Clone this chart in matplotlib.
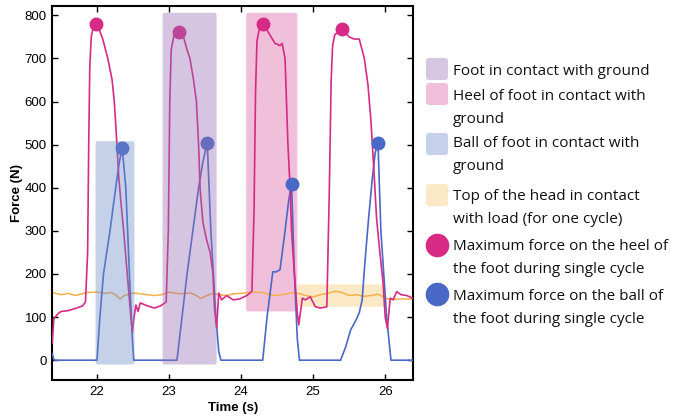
import matplotlib
matplotlib.use("Agg")
import matplotlib.pyplot as plt
from matplotlib.patches import FancyBboxPatch
from matplotlib.lines import Line2D

# ----------------------------------------------------
# data
# ----------------------------------------------------
heel_t = [21.38, 21.40, 21.42, 21.46, 21.50, 21.60, 21.70, 21.80, 21.84, 21.87, 21.885, 21.90,
          21.92, 21.95, 21.98, 22.02, 22.08, 22.15, 22.21, 22.24, 22.27, 22.30, 22.33, 22.37,
          22.42, 22.46, 22.49, 22.51, 22.54, 22.57, 22.60, 22.70, 22.80, 22.88, 22.96, 22.99,
          23.01, 23.03, 23.07, 23.14, 23.20, 23.25, 23.29, 23.34, 23.38, 23.41, 23.43, 23.47,
          23.52, 23.57, 23.61, 23.63, 23.66, 23.69, 23.73, 23.80, 23.89, 23.98, 24.08, 24.15,
          24.18, 24.20, 24.22, 24.26, 24.31, 24.38, 24.47, 24.54, 24.57, 24.61, 24.65, 24.68,
          24.70, 24.74, 24.78, 24.80, 24.85, 24.89, 24.96, 25.03, 25.10, 25.19, 25.225, 25.25,
          25.27, 25.30, 25.40, 25.50, 25.57, 25.64, 25.71, 25.76, 25.80, 25.84, 25.88, 25.92,
          25.97, 26.00, 26.03, 26.07, 26.11, 26.16, 26.22, 26.30, 26.38]
heel_f = [40, 95, 100, 108, 113, 115, 120, 126, 135, 250, 500, 680,
          750, 775, 780, 772, 745, 700, 650, 600, 520, 430, 370, 300,
          200, 120, 65, 95, 128, 113, 133, 126, 121, 126, 135, 300,
          600, 720, 755, 762, 750, 720, 700, 650, 600, 500, 400, 320,
          280, 250, 200, 120, 75, 156, 140, 150, 140, 142, 150, 160,
          350, 620, 740, 775, 780, 760, 735, 730, 735, 700, 500, 400,
          300, 200, 110, 82, 144, 140, 147, 124, 121, 124, 400, 650,
          730, 755, 768, 750, 745, 745, 700, 640, 560, 450, 330, 260,
          180, 100, 74, 144, 140, 159, 152, 150, 144]

ball_t = [21.38, 21.40, 21.42, 22.00, 22.04, 22.09, 22.18, 22.26, 22.31, 22.35, 22.40, 22.45,
          22.49, 22.51, 23.11, 23.18, 23.25, 23.33, 23.41, 23.47, 23.53, 23.58, 23.65, 23.69,
          23.72, 24.30, 24.36, 24.44, 24.49, 24.54, 24.61, 24.66, 24.70, 24.74, 24.78, 24.81,
          25.38, 25.45, 25.52, 25.60, 25.64, 25.68, 25.72, 25.77, 25.82, 25.86, 25.90, 25.94,
          26.02, 26.08, 26.38]
ball_f = [15, 2, 0, 0, 100, 200, 300, 400, 460, 492, 400, 200,
          50, 0, 0, 100, 200, 300, 400, 460, 505, 300, 100, 20,
          0, 0, 100, 205, 205, 210, 300, 370, 408, 200, 50, 0,
          0, 30, 70, 95, 110, 140, 230, 330, 420, 480, 505, 300,
          100, 0, 0]

head_t = [21.38, 21.50, 21.60, 21.70, 21.85, 22.00, 22.10, 22.20, 22.27, 22.32, 22.38, 22.50,
          22.65, 22.80, 22.90, 23.00, 23.15, 23.30, 23.38, 23.44, 23.50, 23.60, 23.70, 23.80,
          23.90, 24.00, 24.15, 24.30, 24.40, 24.50, 24.60, 24.70, 24.80, 24.90, 25.00, 25.10,
          25.20, 25.31, 25.40, 25.50, 25.60, 25.70, 25.80, 25.90, 25.96, 26.02, 26.07, 26.20,
          26.38]
head_f = [157, 152, 155, 150, 157, 158, 155, 157, 150, 142, 150, 156,
          153, 150, 152, 158, 154, 156, 150, 143, 148, 155, 152, 150,
          154, 155, 158, 157, 152, 150, 153, 156, 155, 150, 147, 152,
          155, 160, 157, 150, 152, 148, 150, 153, 148, 143, 141, 142,
          142]

heel_peak_t = [21.98, 23.14, 24.31, 25.40]
heel_peak_f = [780, 762, 780, 768]
ball_peak_t = [22.35, 23.53, 24.70, 25.90]
ball_peak_f = [492, 505, 408, 505]

# shaded phases: (t0, t1, f0, f1)
foot_span = (22.91, 23.66, -10, 806)
heel_span = (24.07, 24.78, 113, 806)
ball_span = (21.98, 22.52, -10, 508)
head_span = (24.78, 26.00, 124, 176)

legend_labels = [
    ["Foot in contact with ground"],
    ["Heel of foot in contact with", "ground"],
    ["Ball of foot in contact with", "ground"],
    ["Top of the head in contact", "with load (for one cycle)"],
    ["Maximum force on the heel of", "the foot during single cycle"],
    ["Maximum force on the ball of", "the foot during single cycle"],
]

MAGENTA = "#d62a85"
BLUE = "#4a68c5"
ORANGE = "#f5b04a"
W, H = 676, 419


def add_span(ax, span, color, alpha, z):
    t0, t1, f0, f1 = span
    box = FancyBboxPatch((t0, f0), t1 - t0, f1 - f0,
                         boxstyle="round,pad=0,rounding_size=0.03",
                         mutation_aspect=167, facecolor=color, edgecolor="none",
                         alpha=alpha, zorder=z)
    ax.add_patch(box)


fig = plt.figure(figsize=(6.76, 4.19), dpi=100)
ax = fig.add_axes([0.0774, 0.093, 0.534, 0.893])

add_span(ax, heel_span, "#f0bfd9", 1, 0)
add_span(ax, head_span, "#fbe9c6", 1, 0)

ax.plot(head_t, head_f, color=ORANGE, lw=1.1, zorder=2)
ax.plot(ball_t, ball_f, color=BLUE, lw=1.2, zorder=3)
ax.plot(heel_t, heel_f, color=MAGENTA, lw=1.2, zorder=3)
ax.plot(heel_peak_t, heel_peak_f, "o", color=MAGENTA, ms=9, zorder=4)
ax.plot(ball_peak_t, ball_peak_f, "o", color=BLUE, ms=9, zorder=4)

add_span(ax, ball_span, "#6e8aca", 0.4, 5)
add_span(ax, foot_span, "#9870b4", 0.4, 5)

ax.set_xlim(21.38, 26.39)
ax.set_ylim(-46, 822)
ax.set_xticks([22, 23, 24, 25, 26])
ax.set_yticks([0, 100, 200, 300, 400, 500, 600, 700, 800])
ax.tick_params(direction="in", top=True, right=True, length=4, width=1,
               labelsize=9.5, pad=4)
for lab in ax.get_xticklabels() + ax.get_yticklabels():
    lab.set_fontfamily("Liberation Sans")
for s in ax.spines.values():
    s.set_linewidth(1.5)
ax.set_xlabel("Time (s)", fontsize=9.5, fontweight="bold", family="Liberation Sans", labelpad=3)
ax.set_ylabel("Force (N)", fontsize=9.5, fontweight="bold", family="Liberation Sans", labelpad=1)

# ----------------------------------------------------
# legend, drawn by hand so the key sits on the first line
# ----------------------------------------------------
keys = [("box", "#d6c6e1"), ("box", "#f0bfd9"), ("box", "#c5d1eb"),
        ("box", "#fbe9c6"), ("dot", MAGENTA), ("dot", BLUE)]
key_y = [69, 94, 144, 195, 245.5, 294]
first_baseline = [75, 100, 147.3, 200, 250, 300]
line_step = 23

for (kind, col), ky, base, lines in zip(keys, key_y, first_baseline, legend_labels):
    if kind == "box":
        fig.add_artist(FancyBboxPatch((426 / W, 1 - (ky + 11) / H), 22 / W, 22 / H,
                                      boxstyle=f"round,pad=0,rounding_size={3 / W}",
                                      mutation_aspect=W / H, transform=fig.transFigure,
                                      facecolor=col, edgecolor="none"))
    else:
        fig.add_artist(Line2D([437 / W], [1 - ky / H], marker="o", ms=16, color=col,
                              ls="none", transform=fig.transFigure))
    for i, txt in enumerate(lines):
        fig.text(453 / W, 1 - (base + i * line_step) / H, txt, family="Open Sans",
                 fontsize=11, va="baseline", ha="left", color="#111111")

plt.savefig("out.png", dpi=100)
